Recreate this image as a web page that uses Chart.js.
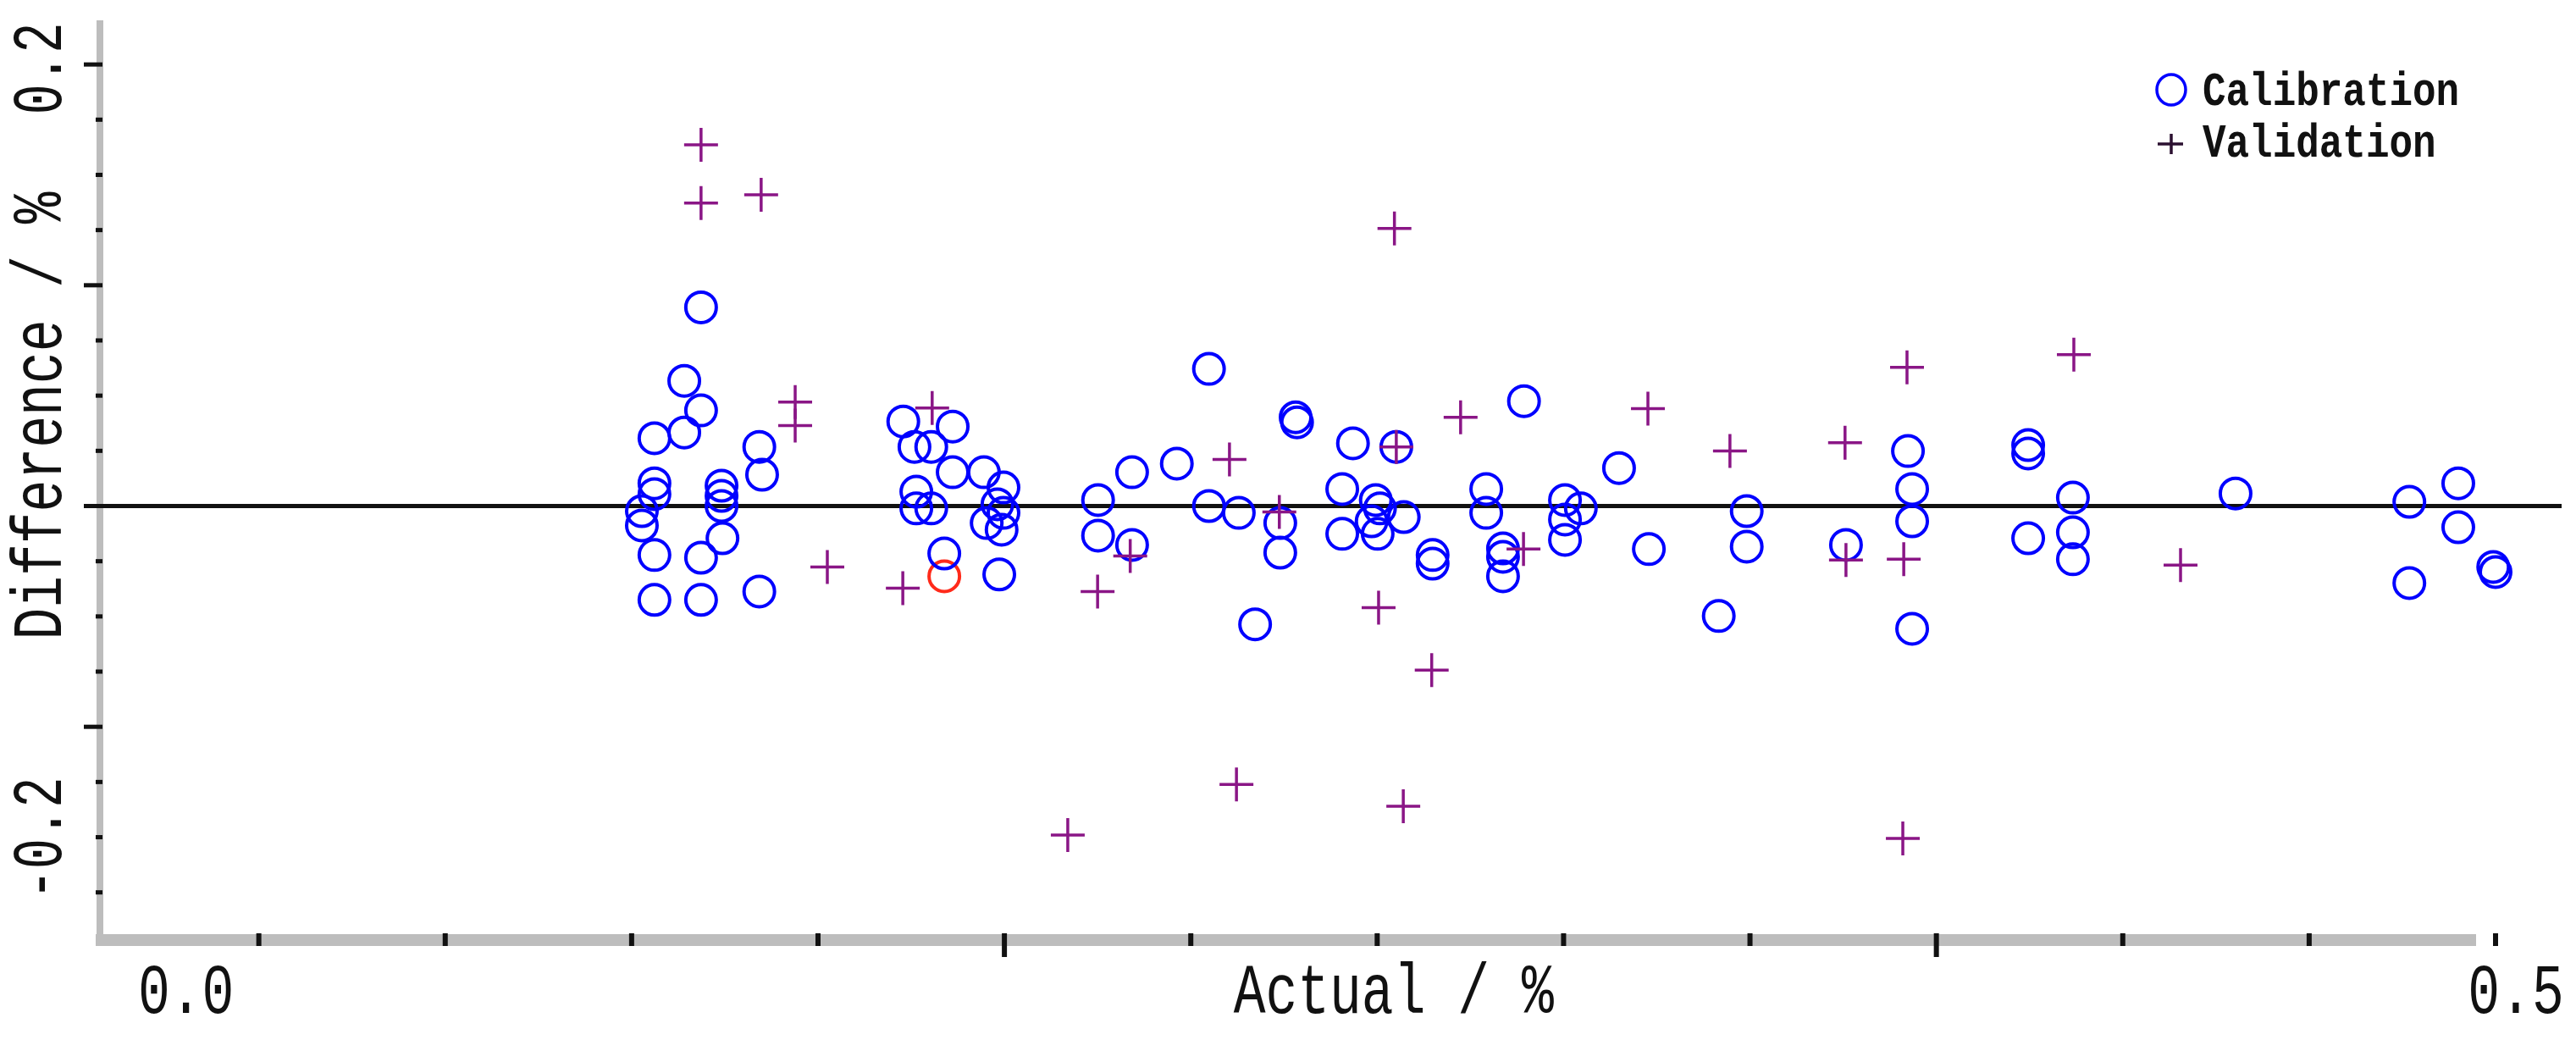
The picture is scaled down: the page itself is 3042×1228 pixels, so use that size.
<!DOCTYPE html>
<html>
<head>
<meta charset="utf-8">
<script src="https://cdn.jsdelivr.net/npm/chart.js@4.4.1/dist/chart.umd.min.js"></script>
<style>
  html, body { margin: 0; padding: 0; background: #fff; }
  #wrap { width: 3042px; height: 1228px; position: relative; }
</style>
</head>
<body>
<div id="wrap"><canvas id="chart"></canvas></div>
<script>
// calibration samples (blue circles): actual % vs difference %
const calX = [0.1049, 0.1049, 0.1049, 0.1022, 0.1022, 0.1049, 0.1049,
  0.1149, 0.1113, 0.1149, 0.1113, 0.1193, 0.1193, 0.1193, 0.1195, 0.1149, 0.1149,
  0.1274, 0.1280, 0.1274,
  0.1583, 0.1689, 0.1607, 0.1643, 0.1689, 0.1611, 0.1611, 0.1643, 0.1671,
  0.1756, 0.1798, 0.1785, 0.1798, 0.1762, 0.1794, 0.1789,
  0.2001, 0.2074, 0.2001, 0.2074, 0.2170, 0.2239, 0.2239, 0.2303, 0.2392, 0.2392, 0.2425, 0.2428, 0.2338, 0.2548, 0.2525, 0.2525,
  0.2641, 0.2597, 0.2606, 0.2588, 0.2601, 0.2657, 0.2719, 0.2719, 0.2834, 0.2834, 0.2870, 0.2870, 0.2870, 0.2915, 0.3003, 0.3037, 0.3003, 0.3003, 0.3119, 0.3183, 0.3393, 0.3393, 0.3333,
  0.3739, 0.3748, 0.3748, 0.3606, 0.3748, 0.3997, 0.3997, 0.3997, 0.4093, 0.4093, 0.4093,
  0.4442, 0.4815, 0.4920, 0.4920, 0.4815, 0.4995, 0.5000];
const calY = [0.0307, 0.0103, 0.0054, -0.0023, -0.0088, -0.0222, -0.0425,
  0.0900, 0.0567, 0.0433, 0.0333, 0.0092, 0.0046, 0.0000, -0.0146, -0.0234, -0.0425,
  0.0268, 0.0142, -0.0387,
  0.0383, 0.0360, 0.0268, 0.0268, 0.0153, 0.0065, -0.0011, -0.0011, -0.0215,
  0.0153, 0.0084, 0.0008, -0.0031, -0.0077, -0.0107, -0.0310,
  0.0027, 0.0153, -0.0134, -0.0176, 0.0192, 0.0621, 0.0000, -0.0031, -0.0077, -0.0211, 0.0402, 0.0379, -0.0536, 0.0284, 0.0077, -0.0126,
  0.0268, 0.0027, -0.0011, -0.0069, -0.0126, -0.0050, -0.0222, -0.0261, 0.0077, -0.0031, -0.0192, -0.0230, -0.0318, 0.0475, 0.0027, -0.0011, -0.0061, -0.0153, 0.0172, -0.0195, -0.0023, -0.0184, -0.0498,
  0.0249, 0.0077, -0.0069, -0.0176, -0.0556, 0.0276, 0.0238, -0.0146, 0.0038, -0.0119, -0.0241,
  0.0057, 0.0019, 0.0103, -0.0096, -0.0349, -0.0276, -0.0299];

// one calibration sample drawn in red
const flagX = [0.1671];
const flagY = [-0.0318];

// validation samples (purple crosses)
const valX = [0.1149, 0.1149, 0.1278, 0.1351, 0.1351, 0.1420, 0.1582, 0.1645, 0.2000, 0.2070,
  0.1936, 0.2283, 0.2298, 0.2390, 0.2637, 0.2641, 0.2603, 0.2717, 0.2656, 0.2779,
  0.2914, 0.3181, 0.3357, 0.3604, 0.3606, 0.3730, 0.3728, 0.3737, 0.4095, 0.4324];
const valY = [0.1636, 0.1372, 0.1410, 0.0471, 0.0364, -0.0276, -0.0372, 0.0444, -0.0387, -0.0226,
  -0.1490, 0.0211, -0.1261, -0.0027, 0.1257, 0.0268, -0.0460, -0.0743, -0.1360, 0.0402,
  -0.0195, 0.0441, 0.0249, 0.0287, -0.0245, -0.0241, -0.1506, 0.0628, 0.0686, -0.0268];

// axis ticks and labels
const xTickValues = [0.02, 0.06, 0.10, 0.14, 0.18, 0.22, 0.26, 0.30, 0.34, 0.38, 0.42, 0.46, 0.50];
const xMajorTicks = [0.18, 0.38];
const xLabelValues = [0, 0.5];
const xLabelTexts = ["0.0", "0.5"];
const yTickValues = [0.2, 0.175, 0.15, 0.125, 0.1, 0.075, 0.05, 0.025, 0,
  -0.025, -0.05, -0.075, -0.1, -0.125, -0.15, -0.175];
const yMajorTicks = [0.2, 0.1, -0.1];
const yLabelValues = [0.2, -0.2];
const yLabelTexts = ["0.2", "-0.2"];

const xTitle = "Actual / %";
const yTitle = "Difference / %";

function toPoints(xs, ys) {
  return xs.map((x, i) => ({ x: x, y: ys[i] }));
}

// narrow, tall monospace text like the original software
function drawText(ctx, text, x, y, opts) {
  ctx.save();
  ctx.translate(x, y);
  if (opts.rotate) ctx.rotate(opts.rotate);
  ctx.scale(opts.squeeze || 1, 1);
  ctx.font = (opts.bold ? "bold " : "") + opts.size + "px 'Liberation Mono', monospace";
  ctx.fillStyle = opts.color || "#111";
  ctx.textAlign = opts.align || "center";
  ctx.textBaseline = "middle";
  ctx.fillText(text, 0, 0);
  ctx.restore();
}

const axesPlugin = {
  id: "oldAxes",
  beforeDatasetsDraw(chart) {
    const { ctx, chartArea: area, scales } = chart;
    const x = scales.x;
    const y = scales.y;
    ctx.save();

    // grey axis bars
    ctx.fillStyle = "#bdbdbd";
    ctx.fillRect(area.left - 4, area.top, 8, area.bottom - area.top + 7);
    ctx.fillRect(area.left - 5, area.bottom - 7, area.right - 23 - (area.left - 5), 14);

    // zero reference line
    const y0 = y.getPixelForValue(0);
    ctx.fillStyle = "#111";
    ctx.fillRect(area.left - 19, y0 - 2.5, area.right + 78 - (area.left - 19), 5);

    // y tick marks
    yTickValues.forEach((v) => {
      const py = y.getPixelForValue(v);
      if (yMajorTicks.includes(v)) {
        ctx.fillRect(area.left - 19, py - 2.5, 22, 5);
      } else {
        ctx.fillRect(area.left - 5, py - 2.5, 8, 5);
      }
    });

    // x tick marks
    xTickValues.forEach((v) => {
      const px = x.getPixelForValue(v);
      const len = xMajorTicks.includes(v) ? 28 : 15;
      ctx.fillRect(px - 3, area.bottom - 8, 6, len);
    });
    ctx.restore();
  },
  afterDraw(chart) {
    const { ctx, chartArea: area, scales } = chart;
    const x = scales.x;
    const y = scales.y;

    // x tick labels
    xLabelValues.forEach((v, i) => {
      drawText(ctx, xLabelTexts[i], x.getPixelForValue(v) + 24, area.bottom + 64, { size: 84, squeeze: 0.75 });
    });

    // y tick labels (kept inside the axis extent)
    yLabelValues.forEach((v, i) => {
      let py = y.getPixelForValue(v);
      py = Math.max(area.top + 57, Math.min(area.bottom - 120, py));
      drawText(ctx, yLabelTexts[i], area.left - 68, py, { size: 84, squeeze: 0.72, rotate: -Math.PI / 2 });
    });

    // axis titles
    drawText(ctx, xTitle, area.left + (area.right - area.left) * 0.54, area.bottom + 64, { size: 84, squeeze: 0.75 });
    drawText(ctx, yTitle, area.left - 68, area.top + (area.bottom - area.top) * 0.43, { size: 84, squeeze: 0.75, rotate: -Math.PI / 2 });

    // legend
    const cal = chart.data.datasets.find((d) => d.key === "cal");
    const val = chart.data.datasets.find((d) => d.key === "val");
    const lx = area.right - 383;
    ctx.save();
    ctx.strokeStyle = cal.pointBorderColor;
    ctx.lineWidth = 3.5;
    ctx.beginPath();
    ctx.ellipse(lx, area.top + 82, 17, 18, 0, 0, Math.PI * 2);
    ctx.stroke();
    ctx.strokeStyle = "#2b1030";
    ctx.lineWidth = 3.5;
    ctx.beginPath();
    ctx.moveTo(lx - 16, area.top + 146);
    ctx.lineTo(lx + 14, area.top + 146);
    ctx.moveTo(lx, area.top + 134);
    ctx.lineTo(lx, area.top + 158);
    ctx.stroke();
    ctx.restore();
    drawText(ctx, cal.label, area.right - 346, area.top + 86, { size: 56, squeeze: 0.82, bold: true, align: "left" });
    drawText(ctx, val.label, area.right - 346, area.top + 147, { size: 56, squeeze: 0.82, bold: true, align: "left" });
  }
};

const ctx = document.getElementById("chart");

new Chart(ctx, {
  type: "scatter",
  data: {
    datasets: [
      {
        key: "val",
        label: "Validation",
        data: toPoints(valX, valY),
        pointStyle: "cross",
        pointRadius: 20,
        pointHoverRadius: 20,
        pointBorderWidth: 3.5,
        pointBorderColor: "#8a1686",
        pointBackgroundColor: "#8a1686",
        clip: false,
        order: 0,
      },
      {
        key: "flag",
        label: "Flagged",
        data: toPoints(flagX, flagY),
        pointStyle: "circle",
        pointRadius: 18,
        pointHoverRadius: 18,
        pointBorderWidth: 4,
        pointBorderColor: "#ff2a1a",
        pointBackgroundColor: "rgba(0,0,0,0)",
        clip: false,
        order: 2,
      },
      {
        key: "cal",
        label: "Calibration",
        data: toPoints(calX, calY),
        pointStyle: "circle",
        pointRadius: 18,
        pointHoverRadius: 18,
        pointBorderWidth: 4,
        pointBorderColor: "#0000ff",
        pointBackgroundColor: "rgba(0,0,0,0)",
        clip: false,
        order: 1,
      },
    ],
  },
  options: {
    responsive: true,
    maintainAspectRatio: false,
    devicePixelRatio: 1,
    animation: false,
    layout: {
      padding: { left: 118, right: 95, top: 24, bottom: 118 },
    },
    plugins: {
      legend: { display: false },
      tooltip: { enabled: false },
    },
    scales: {
      x: { type: "linear", min: -0.0141, max: 0.5, display: false },
      y: { type: "linear", min: -0.1966, max: 0.22, display: false },
    },
  },
  plugins: [axesPlugin],
});
</script>
</body>
</html>
